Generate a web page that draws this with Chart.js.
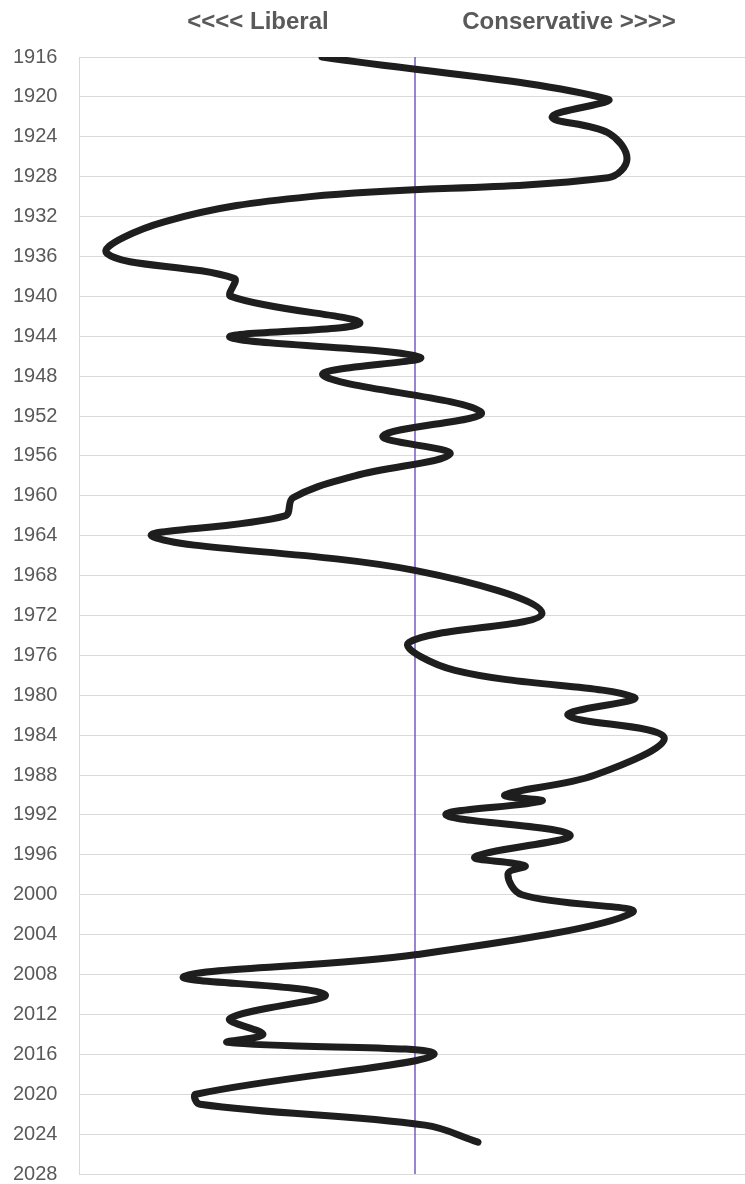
<!DOCTYPE html>
<html>
<head>
<meta charset="utf-8">
<script src="https://cdn.jsdelivr.net/npm/chart.js@4.4.1/dist/chart.umd.min.js"></script>
<style>
  html, body { margin: 0; padding: 0; background: #ffffff; }
  #wrap { position: relative; width: 745px; height: 1184px; }
</style>
</head>
<body>
<div id="wrap"><canvas id="c" width="745" height="1184"></canvas></div>
<script>
// ---- data ----
const years = [1916.0, 1920.2, 1922.0, 1923.6, 1926.2, 1928.1, 1930.0, 1932.5, 1935.7, 1938.2,
  1940.0, 1942.7, 1944.1, 1946.1, 1947.9, 1951.6, 1954.0, 1955.8, 1958.0, 1960.2,
  1962.0, 1964.1, 1967.5, 1971.8, 1974.7, 1977.5, 1980.2, 1982.0, 1984.2, 1988.0,
  1990.0, 1990.6, 1992.0, 1994.0, 1996.2, 1997.1, 1997.9, 2000.0, 2001.8, 2006.0,
  2008.2, 2010.0, 2012.4, 2014.0, 2014.8, 2016.0, 2020.0, 2021.0, 2023.1, 2024.8];
const scores = [-0.93, 1.92, 1.37, 1.93, 2.12, 1.93, -1.05, -2.50, -3.08, -1.81,
  -1.84, -0.55, -1.85, 0.05, -0.92, 0.66, -0.32, 0.35, -0.60, -1.22,
  -1.30, -2.62, 0.01, 1.27, -0.06, 0.40, 2.19, 1.53, 2.49, 1.80,
  0.90, 1.27, 0.31, 1.55, 0.60, 1.10, 0.93, 1.07, 2.17, 0.02,
  -2.31, -0.90, -1.85, -1.52, -1.87, 0.19, -2.19, -2.15, 0.10, 0.63];
const centerLineYears = [1916, 2028];
const centerLineScores = [0, 0];
const yearTicks = [1916, 1920, 1924, 1928, 1932, 1936, 1940, 1944, 1948, 1952, 1956, 1960, 1964,
  1968, 1972, 1976, 1980, 1984, 1988, 1992, 1996, 2000, 2004, 2008, 2012, 2016, 2020, 2024, 2028];
const sideLabels = ["<<<< Liberal", "Conservative >>>>"];
const sideLabelPositions = [-1.57, 1.54];

const mainData = years.map((y, i) => ({ x: scores[i], y: y }));
const centerData = centerLineYears.map((y, i) => ({ x: centerLineScores[i], y: y }));

const sideLabelPlugin = {
  id: 'sideLabels',
  afterDraw(chart) {
    const ctx = chart.ctx;
    const xs = chart.scales.x;
    ctx.save();
    ctx.font = 'bold 24px "Liberation Sans", Arial, sans-serif';
    ctx.fillStyle = '#595959';
    ctx.textAlign = 'center';
    ctx.textBaseline = 'middle';
    sideLabels.forEach((t, i) => {
      ctx.fillText(t, xs.getPixelForValue(sideLabelPositions[i]), 22);
    });
    ctx.restore();
  }
};

new Chart(document.getElementById('c'), {
  type: 'scatter',
  data: {
    datasets: [
      {
        data: centerData,
        showLine: true,
        borderColor: '#7a5cc4',
        borderWidth: 1.5,
        pointRadius: 0,
        tension: 0,
        order: 2
      },
      {
        data: mainData,
        showLine: true,
        borderColor: '#1e1e1e',
        borderWidth: 7,
        pointRadius: 0,
        tension: 0.38,
        borderCapStyle: 'round',
        borderJoinStyle: 'round',
        order: 1
      }
    ]
  },
  options: {
    responsive: false,
    animation: false,
    layout: { padding: { top: 57, bottom: 10, left: 13, right: 0 } },
    plugins: { legend: { display: false }, tooltip: { enabled: false }, title: { display: false } },
    scales: {
      x: {
        type: 'linear',
        min: -3.36,
        max: 3.30,
        display: false
      },
      y: {
        type: 'linear',
        reverse: true,
        min: 1916,
        max: 2028,
        afterBuildTicks(scale) {
          scale.ticks = yearTicks.map(v => ({ value: v }));
        },
        afterFit(scale) { scale.width = 66; },
        ticks: {
          color: '#595959',
          padding: 0,
          crossAlign: 'far',
          font: { family: '"Liberation Sans", Arial, sans-serif', size: 20, lineHeight: 1.0 },
          callback: (v) => String(v)
        },
        grid: { color: '#d9d9d9', lineWidth: 1, drawTicks: false },
        border: { display: true, color: '#d9d9d9', width: 1 }
      }
    }
  },
  plugins: [sideLabelPlugin]
});
</script>
</body>
</html>
